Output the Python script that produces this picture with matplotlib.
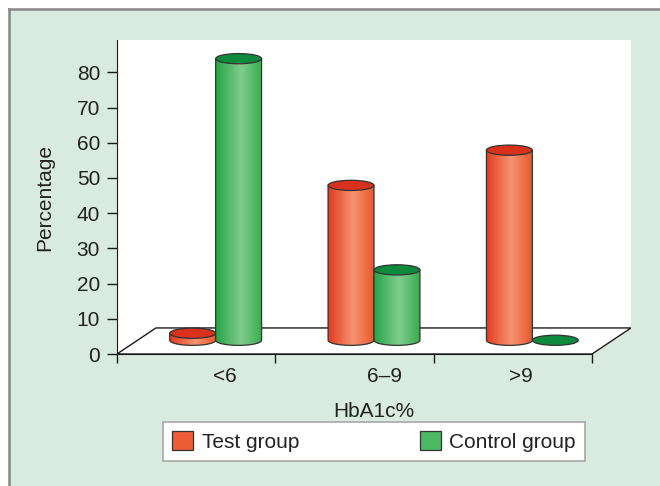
import numpy as np
import matplotlib
matplotlib.use('Agg')
import matplotlib.pyplot as plt
from matplotlib.patches import Polygon, Ellipse, Rectangle, Patch
from matplotlib.colors import LinearSegmentedColormap
from matplotlib.lines import Line2D

plt.rcParams['font.family'] = ['Liberation Sans', 'DejaVu Sans']

categories = ['<6', '6–9', '>9']
test_vals = [2, 44, 54]
control_vals = [80, 20, 0]
series_names = ['Test group', 'Control group']
yticks = list(range(0, 90, 10))

# look of the fake 3d
depth_dx = 0.246      # floor depth, x units
depth_dy = 7.4        # floor depth, y units
base_y = 3.9          # bars stand half way into the floor
bar_w = 0.29
ell_h = 2.9
ytop = 89.2

orange_cm = LinearSegmentedColormap.from_list('o', [(0, '#e33a1e'), (0.55, '#f59470'), (1, '#e9582c')])
green_cm = LinearSegmentedColormap.from_list('g', [(0, '#27a546'), (0.55, '#80cc8e'), (1, '#36ae4d')])
top_cols = ['#d8321d', '#0d8a3b']
leg_cols = ['#ee5d37', '#4cb864']
edge = '#333333'
txt = '#222222'
bg = '#d9ebe0'

fig = plt.figure(figsize=(6.6, 4.86), dpi=100)
fig.patch.set_facecolor('white')
fig.patches.append(Rectangle((9 / 660, 0), 1, 1 - 9 / 486, transform=fig.transFigure,
                             facecolor=bg, edgecolor='none', zorder=-2))
fig.lines.append(Line2D([9 / 660, 1], [1 - 9 / 486, 1 - 9 / 486], transform=fig.transFigure,
                        color='#888888', lw=1.8, zorder=-1))
fig.lines.append(Line2D([9 / 660, 9 / 660], [0, 1 - 9 / 486], transform=fig.transFigure,
                        color='#888888', lw=1.8, zorder=-1))

ax = fig.add_axes([117 / 660, 1 - 354 / 486, (631 - 117) / 660, (354 - 40) / 486])
ax.set_facecolor('none')
n = len(categories)

# white wall + floor
wall = Polygon([(0, ytop), (n + depth_dx, ytop), (n + depth_dx, depth_dy), (n, 0), (0, 0)],
               closed=True, facecolor='white', edgecolor='none', zorder=0)
ax.add_patch(wall)
floor = Polygon([(0, 0), (depth_dx, depth_dy), (n + depth_dx, depth_dy), (n, 0)],
                closed=True, facecolor='white', edgecolor='#1a1a1a', lw=1.0, zorder=1)
ax.add_patch(floor)

grad = np.linspace(0, 1, 256).reshape(1, -1)
a = bar_w / 2
b = ell_h / 2
t = np.linspace(np.pi, 2 * np.pi, 60)

z = 2
for i in range(n):
    pair_c = i + 0.5 + depth_dx / 2
    for k, (vals, cm) in enumerate([(test_vals, orange_cm), (control_vals, green_cm)]):
        xc = pair_c + (k - 0.5) * bar_w
        v = vals[i]
        top = base_y + v
        x0, x1 = xc - a, xc + a
        if v > 0:
            verts = [(x0, top), (x0, base_y)] + list(zip(xc + a * np.cos(t), base_y + b * np.sin(t))) + [(x1, top)]
            body = Polygon(verts, closed=True, fill=False, edgecolor=edge, lw=0.9, zorder=z + 0.1)
            ax.add_patch(body)
            im = ax.imshow(grad, extent=[x0, x1, base_y - b, top], aspect='auto', cmap=cm,
                           interpolation='bilinear', zorder=z)
            im.set_clip_path(body)
        ax.add_patch(Ellipse((xc, top), bar_w, ell_h, facecolor=top_cols[k], edgecolor=edge,
                             lw=0.9, zorder=z + 0.2))
        z += 1

ax.set_xlim(0, n + depth_dx)
ax.set_ylim(0, ytop)

for s in ['top', 'right']:
    ax.spines[s].set_visible(False)
ax.spines['left'].set_bounds(0, ytop)
ax.spines['bottom'].set_bounds(0, n)
ax.spines['left'].set_color('#1a1a1a')
ax.spines['bottom'].set_color('#1a1a1a')

ax.set_yticks(yticks)
ax.tick_params(axis='y', length=7.2, width=1, pad=5, labelsize=15, labelcolor=txt, color='#1a1a1a')
ax.set_xticks(range(n + 1))
ax.set_xticklabels([''] * (n + 1))
ax.tick_params(axis='x', which='major', length=6.2, width=1, color='#1a1a1a')
label_pos = [0.68, 1.69, 2.55]
ax.set_xticks(label_pos, categories, minor=True)
ax.tick_params(axis='x', which='minor', length=0, pad=9, labelsize=15, labelcolor=txt)

ax.set_xlabel('HbA1c%', fontsize=15, color=txt, labelpad=12)
ax.set_ylabel('Percentage', fontsize=15, color=txt, labelpad=16)

handles = [Patch(facecolor=leg_cols[0], edgecolor=edge, lw=0.9),
           Patch(facecolor=leg_cols[1], edgecolor=edge, lw=0.9)]
leg = fig.legend(handles, series_names, loc='lower left', mode='expand', ncol=2,
                 bbox_to_anchor=(163 / 660, 1 - 461 / 486, (585 - 163) / 660, 36 / 486),
                 borderaxespad=0, fancybox=False, fontsize=15, handlelength=1.0,
                 handleheight=1.0, handletextpad=0.4, borderpad=0.45, framealpha=1)
leg.get_frame().set_edgecolor('#a8a8a8')
leg.get_frame().set_linewidth(1.2)
for tx in leg.get_texts():
    tx.set_color(txt)

fig.savefig('out.png', dpi=100, facecolor=fig.get_facecolor())
